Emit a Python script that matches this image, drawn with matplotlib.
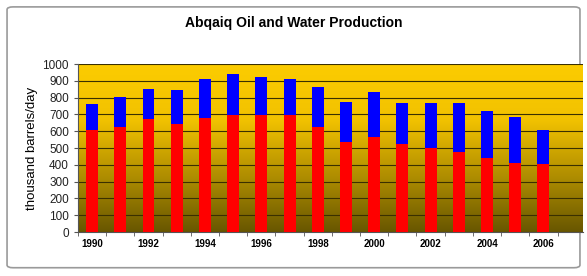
import numpy as np
import matplotlib.pyplot as plt
from matplotlib.colors import LinearSegmentedColormap
from matplotlib.patches import FancyBboxPatch

years = list(range(1990, 2007))
oil = [608, 624, 672, 644, 676, 696, 696, 696, 624, 537, 565, 522, 500, 476, 439, 411, 405]
total = [763, 802, 852, 844, 909, 939, 925, 913, 865, 775, 834, 767, 767, 767, 721, 682, 609]
water = [t - o for t, o in zip(total, oil)]

plt.rcParams["font.family"] = ["Liberation Sans", "DejaVu Sans"]

fig = plt.figure(figsize=(5.87, 2.76), dpi=100)
fig.patch.set_facecolor("white")
frame = FancyBboxPatch((0.012, 0.03), 0.976, 0.945, boxstyle="round,pad=0,rounding_size=0.01",
                       transform=fig.transFigure, facecolor="white", edgecolor="#9a9a9a", lw=1.2,
                       zorder=-5)
fig.patches.append(frame)

ax = fig.add_axes([0.133, 0.159, 0.86, 0.609])
ax.set_zorder(2)
ax.patch.set_alpha(0)

# yellow-to-olive gradient background
cmap = LinearSegmentedColormap.from_list("bg", ["#685600", "#b08e00", "#f2c200", "#fccc00"])
grad = np.linspace(0, 1, 256).reshape(-1, 1)
ax.imshow(grad, cmap=cmap, aspect="auto", origin="lower", extent=[0, 1, 0, 1],
          transform=ax.transAxes, zorder=0)

x = np.arange(len(years))
ax.bar(x, oil, width=0.42, color="#ff0000", zorder=3)
ax.bar(x, water, width=0.42, bottom=oil, color="#0000ff", zorder=3)

ax.set_xlim(-0.5, len(years) + 0.4)
ax.set_ylim(0, 1000)
ax.set_yticks(range(0, 1001, 100))
ax.yaxis.grid(True, color="#3a3000", lw=0.8, zorder=1)

ax.set_xticks(x[::2])
ax.set_xticklabels([str(y) for y in years[::2]], fontsize=7, fontweight="bold")
ax.set_xticks(np.arange(-0.5, len(years) + 0.5, 1), minor=True)
ax.tick_params(axis="x", which="major", length=0, pad=5)
ax.tick_params(axis="x", which="minor", length=3, color="#555555")
ax.tick_params(axis="y", labelsize=8.5, length=3, color="#555555", labelcolor="#222222")

for side in ["top", "right"]:
    ax.spines[side].set_visible(False)
ax.spines["left"].set_color("#555555")
ax.spines["bottom"].set_color("#555555")

ax.set_ylabel("thousand barrels/day", fontsize=9.5, labelpad=3)
fig.text(0.5, 0.915, "Abqaiq Oil and Water Production", ha="center", va="center",
         fontsize=10, fontweight="bold")

fig.savefig("out.png", dpi=100)
